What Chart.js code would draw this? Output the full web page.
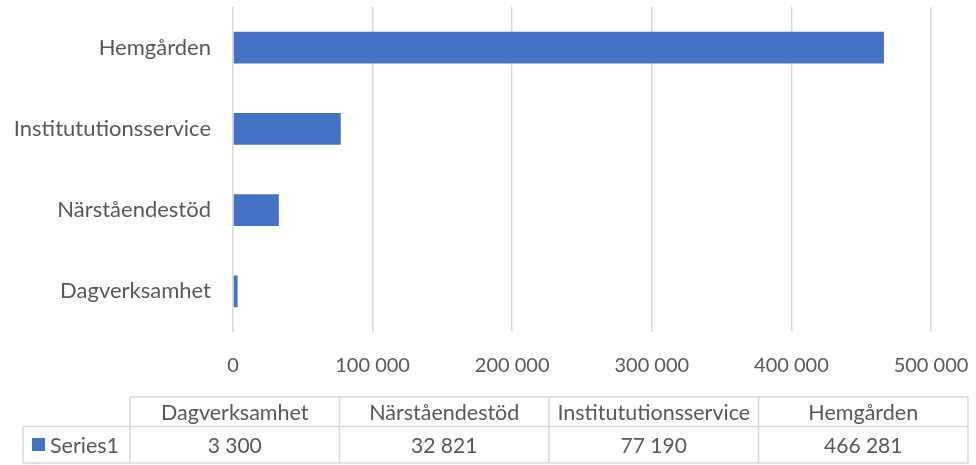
<!DOCTYPE html>
<html>
<head>
<meta charset="utf-8">
<script src="https://cdn.jsdelivr.net/npm/chart.js@4/dist/chart.umd.min.js"></script>
<style>
  html, body { margin: 0; padding: 0; background: #ffffff; }
  #wrap { width: 976px; height: 465px; position: relative; }
</style>
</head>
<body>
<div id="wrap"><canvas id="c" width="976" height="465"></canvas></div>
<script>
const categories = ["Dagverksamhet", "Närståendestöd", "Institututionsservice", "Hemgården"];
const seriesName = "Series1";
const seriesValues = [3300, 32821, 77190, 466281];
const xTicks = [0, 100000, 200000, 300000, 400000, 500000];

const FONT = "Lato, 'Open Sans', sans-serif";
const TEXT = "#595959";
const GRID = "#d9d9d9";
const BAR = "#4472C4";

function fmt(v) {
  return String(Math.round(v)).replace(/\B(?=(\d{3})+(?!\d))/g, " ");
}

const tablePlugin = {
  id: "dataTable",
  afterDraw(chart) {
    const ctx = chart.ctx;
    const left = 130, right = 968;
    const labelLeft = 23;
    const y0 = 397, y1 = 426.5, y2 = 463;
    const n = categories.length;
    const colW = (right - left) / n;
    ctx.save();
    ctx.strokeStyle = GRID;
    ctx.lineWidth = 1.5;
    ctx.beginPath();
    ctx.moveTo(left, y0); ctx.lineTo(right, y0);
    ctx.moveTo(labelLeft, y1); ctx.lineTo(right, y1);
    ctx.moveTo(labelLeft, y2); ctx.lineTo(right, y2);
    ctx.moveTo(labelLeft, y1); ctx.lineTo(labelLeft, y2);
    for (let i = 0; i <= n; i++) {
      const x = left + i * colW;
      ctx.moveTo(x, y0); ctx.lineTo(x, y2);
    }
    ctx.stroke();
    ctx.fillStyle = TEXT;
    ctx.textAlign = "center";
    ctx.textBaseline = "middle";
    for (let i = 0; i < n; i++) {
      const cx = left + (i + 0.5) * colW;
      ctx.font = "21.5px " + FONT;
      ctx.fillText(categories[i], cx, (y0 + y1) / 2 + 1);
      ctx.font = "21px " + FONT;
      ctx.fillText(fmt(seriesValues[i]), cx, (y1 + y2) / 2 + 1);
    }
    ctx.fillStyle = BAR;
    ctx.fillRect(32, 438, 13, 13);
    ctx.fillStyle = TEXT;
    ctx.textAlign = "left";
    ctx.font = "21.5px " + FONT;
    ctx.fillText(seriesName, 50, (y1 + y2) / 2 + 1);
    ctx.restore();
  }
};

new Chart(document.getElementById("c"), {
  type: "bar",
  data: {
    labels: categories,
    datasets: [{
      label: seriesName,
      data: seriesValues,
      backgroundColor: BAR,
      borderWidth: 0,
      categoryPercentage: 1.0,
      barPercentage: 0.39
    }]
  },
  options: {
    indexAxis: "y",
    responsive: false,
    animation: false,
    devicePixelRatio: 1,
    layout: { padding: { left: 0, right: 45, top: 7, bottom: 83 } },
    plugins: { legend: { display: false }, tooltip: { enabled: false } },
    scales: {
      x: {
        min: 0, max: 500000,
        afterBuildTicks(scale) { scale.ticks = xTicks.map(v => ({ value: v })); },
        afterFit(scale) { scale.height = 50; scale.paddingLeft = 0; scale.paddingRight = 0; },
        grid: { color: GRID, lineWidth: 1.5, drawTicks: false },
        border: { display: false },
        ticks: {
          padding: 22,
          color: TEXT,
          font: { family: FONT, size: 20 },
          callback: v => fmt(v),
          maxRotation: 0
        }
      },
      y: {
        reverse: true,
        afterFit(scale) { scale.width = 233; scale.paddingTop = 0; scale.paddingBottom = 0; },
        grid: { display: false, drawTicks: false },
        border: { display: false },
        ticks: {
          padding: 22,
          color: TEXT,
          font: { family: FONT, size: 22 }
        }
      }
    }
  },
  plugins: [tablePlugin]
});
</script>
</body>
</html>
